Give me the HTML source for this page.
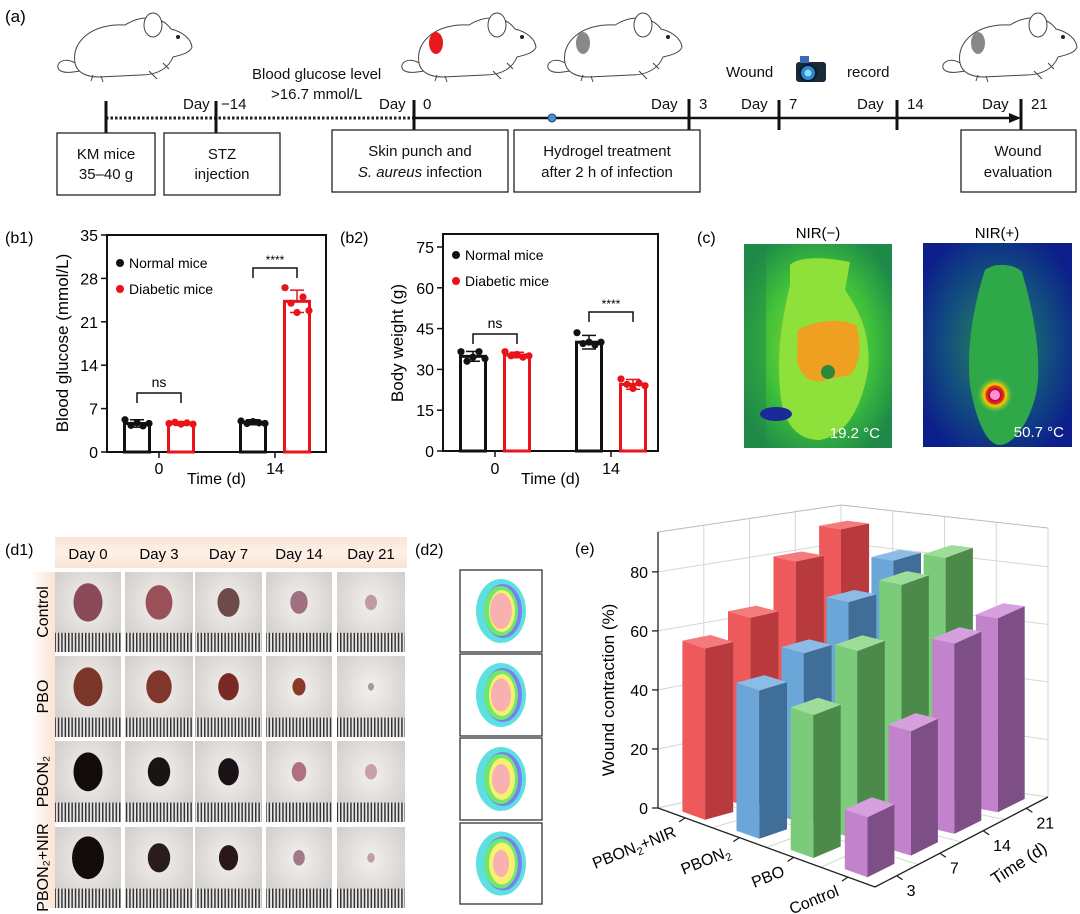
<!DOCTYPE html>
<html><head><meta charset="utf-8"><style>
html,body{margin:0;padding:0;background:#fff;}
svg{display:block;font-family:"Liberation Sans",Arial,sans-serif;}
</style></head><body>
<svg id="root" width="1080" height="914" viewBox="0 0 1080 914" xmlns="http://www.w3.org/2000/svg">
<defs>
  <symbol id="mouse" viewBox="0 0 140 78">
    <path d="M22,58 C8,50 0,62 8,66 C16,70 28,64 36,66" fill="none" stroke="#444" stroke-width="1"/>
    <path d="M22,58 C18,36 40,18 72,20 C88,10 108,10 118,24 C130,27 138,34 139,42 C137,48 128,50 120,52 C116,62 106,70 88,70 L46,72 C34,72 24,68 22,58 Z" fill="#fff" stroke="#444" stroke-width="1"/>
    <ellipse cx="100" cy="20" rx="9" ry="12" fill="#fff" stroke="#444" stroke-width="1"/>
    <circle cx="125" cy="32" r="2" fill="#222"/>
    <path d="M40,70 L38,76 M48,71 L50,77 M96,66 L104,74 M110,58 L116,64" stroke="#444" stroke-width="1"/>
  </symbol>
  <pattern id="ruler" width="3.4" height="20" patternUnits="userSpaceOnUse">
    <rect width="3.4" height="20" fill="#e8e8e8"/><rect width="1.5" height="20" fill="#333"/>
  </pattern>
  <linearGradient id="hdr" x1="0" x2="0" y1="0" y2="1"><stop offset="0" stop-color="#fbe3d3"/><stop offset="0.5" stop-color="#fdf1e8"/><stop offset="1" stop-color="#fbe3d3"/></linearGradient>
  <linearGradient id="rowg" x1="0" x2="1"><stop offset="0" stop-color="#fff"/><stop offset="1" stop-color="#fbe3d3"/></linearGradient>
  <radialGradient id="th1" cx="0.5" cy="0.5" r="0.6"><stop offset="0" stop-color="#a9d92a"/><stop offset="0.6" stop-color="#3fc13a"/><stop offset="1" stop-color="#1e8a4a"/></radialGradient>
  <radialGradient id="th2" cx="0.5" cy="0.5" r="0.6"><stop offset="0" stop-color="#2a8a55"/><stop offset="0.6" stop-color="#124c80"/><stop offset="1" stop-color="#0c1f8a"/></radialGradient>
  <radialGradient id="hot" cx="0.5" cy="0.5" r="0.5"><stop offset="0.3" stop-color="#ff80c8"/><stop offset="0.45" stop-color="#d01020"/><stop offset="0.6" stop-color="#ffcc00"/><stop offset="1" stop-color="#40c040" stop-opacity="0"/></radialGradient>
  <radialGradient id="fur" cx="0.5" cy="0.4" r="0.7"><stop offset="0" stop-color="#f2f0ee"/><stop offset="1" stop-color="#cfcac6"/></radialGradient>
</defs>

<g>
  <text x="5" y="22" font-size="17">(a)</text>
  <use href="#mouse" x="53" y="5" width="140" height="78"/>
  <use href="#mouse" x="397" y="5" width="140" height="78"/>
  <ellipse cx="436" cy="43" rx="7" ry="11" fill="#e8181c"/>
  <use href="#mouse" x="543" y="5" width="140" height="78"/>
  <ellipse cx="583" cy="43" rx="7" ry="11" fill="#888"/>
  <use href="#mouse" x="938" y="5" width="140" height="78"/>
  <ellipse cx="978" cy="43" rx="7" ry="11" fill="#888"/>
  <line x1="106" y1="118" x2="414" y2="118" stroke="#222" stroke-width="3" stroke-dasharray="2.5,2"/>
  <line x1="414" y1="118" x2="1012" y2="118" stroke="#111" stroke-width="2.5"/>
  <polygon points="1021,118 1009,113 1009,123" fill="#111"/>
  <g stroke="#111" stroke-width="3">
    <line x1="106" y1="101" x2="106" y2="133"/><line x1="216" y1="101" x2="216" y2="133"/>
    <line x1="414" y1="100" x2="414" y2="130"/><line x1="689" y1="99" x2="689" y2="130"/>
    <line x1="779" y1="100" x2="779" y2="130"/><line x1="897" y1="100" x2="897" y2="130"/>
    <line x1="1021" y1="99" x2="1021" y2="130"/>
  </g>
  <circle cx="552" cy="118" r="4" fill="#4a90d9" stroke="#1d3f70" stroke-width="1"/>
  <g font-size="15" fill="#111">
    <text x="183" y="109">Day</text><text x="221" y="109">−14</text>
    <text x="252" y="79">Blood glucose level</text>
    <text x="271" y="99">&gt;16.7 mmol/L</text>
    <text x="379" y="109">Day</text><text x="423" y="109">0</text>
    <text x="651" y="109">Day</text><text x="699" y="109">3</text>
    <text x="741" y="109">Day</text><text x="789" y="109">7</text>
    <text x="857" y="109">Day</text><text x="907" y="109">14</text>
    <text x="982" y="109">Day</text><text x="1031" y="109">21</text>
    <text x="726" y="77">Wound</text>
    <text x="847" y="77">record</text>
  </g>
  <g>
    <rect x="796" y="62" width="30" height="20" rx="3" fill="#1a2a3a"/>
    <rect x="800" y="56" width="9" height="7" fill="#3a6ab0"/>
    <circle cx="808" cy="73" r="8" fill="#2a8ad0" stroke="#0a1a2a" stroke-width="2"/>
    <circle cx="808" cy="73" r="3.5" fill="#8fd6ff"/>
  </g>
  <g fill="#fff" stroke="#222" stroke-width="1.3" font-size="15">
    <rect x="57" y="133" width="98" height="62"/>
    <rect x="164" y="133" width="116" height="62"/>
    <rect x="332" y="130" width="176" height="62"/>
    <rect x="514" y="130" width="186" height="62"/>
    <rect x="961" y="130" width="115" height="62"/>
  </g>
  <g font-size="15" fill="#111" text-anchor="middle">
    <text x="106" y="159">KM mice</text><text x="106" y="179">35–40 g</text>
    <text x="222" y="159">STZ</text><text x="222" y="179">injection</text>
    <text x="420" y="156">Skin punch and</text><text x="420" y="177"><tspan font-style="italic">S. aureus</tspan> infection</text>
    <text x="607" y="156">Hydrogel treatment</text><text x="607" y="177">after 2 h of infection</text>
    <text x="1018" y="156">Wound</text><text x="1018" y="177">evaluation</text>
  </g>
</g>

<g id="b1"></g>
<g id="b2"></g>

<g>
  <text x="697" y="243" font-size="16">(c)</text>
  <text x="818" y="238" font-size="15" text-anchor="middle">NIR(−)</text>
  <text x="997" y="238" font-size="15" text-anchor="middle">NIR(+)</text>
  <g>
    <rect x="744" y="244" width="148" height="204" fill="url(#th1)"/>
    <rect x="744" y="244" width="22" height="204" fill="#1f8a45" opacity="0.5"/>
    <path d="M790,265 C800,255 830,258 850,262 L845,290 C855,305 872,330 868,370 C862,405 848,435 820,440 C795,440 782,420 780,390 C776,350 784,310 790,285 Z" fill="#8ee03a"/>
    <path d="M798,330 C815,320 840,318 856,325 C862,345 860,365 850,375 L825,380 C810,385 800,375 797,360 Z" fill="#f0a020"/>
    <circle cx="828" cy="372" r="7" fill="#2a8a3a"/>
    <ellipse cx="776" cy="414" rx="16" ry="7" fill="#1a2a9a"/>
    <text x="880" y="438" font-size="15" fill="#fff" text-anchor="end">19.2 °C</text>
  </g>
  <g>
    <rect x="923" y="243" width="149" height="204" fill="url(#th2)"/>
    <path d="M985,270 C995,262 1015,264 1022,272 C1030,300 1040,340 1038,380 C1035,415 1015,445 1000,445 C985,445 975,415 970,385 C966,345 975,300 985,270 Z" fill="#2fa84a"/>
    <circle cx="995" cy="395" r="18" fill="url(#hot)"/>
    <circle cx="995" cy="395" r="6" fill="#ff90d8" stroke="#c01020" stroke-width="2"/>
    <text x="1064" y="437" font-size="15" fill="#fff" text-anchor="end">50.7 °C</text>
  </g>
</g>

<g id="d1">
  <text x="5" y="555" font-size="16">(d1)</text>
  <rect x="55" y="537" width="352" height="31" fill="url(#hdr)"/>
  <rect x="30" y="572" width="25" height="336" fill="url(#rowg)"/>
</g>
<g id="d2">
  <text x="415" y="555" font-size="16">(d2)</text>
</g>
<g id="e">
  <text x="575" y="554" font-size="16">(e)</text>
</g>
</svg>

<script>
var NS='http://www.w3.org/2000/svg';
function mk(tag,attrs,parent){var el=document.createElementNS(NS,tag);for(var k in attrs)el.setAttribute(k,attrs[k]);parent.appendChild(el);return el;}
function tx(str,attrs,parent){var el=mk('text',attrs,parent);el.textContent=str;return el;}

var bGroups=['0','14'];
var b1Normal=[4.6,4.8];
var b1Diabetic=[4.6,24.3];
var b1NormalErr=[0.6,0.4];
var b1DiabeticErr=[0.3,1.8];
var b1NormalPts=[[5.2,4.3,4.7,4.2,4.6],[5.0,4.6,4.9,4.7,4.6]];
var b1DiabeticPts=[[4.6,4.8,4.5,4.7,4.5],[26.5,24.0,22.5,25.0,22.8]];
var b1Ticks=[0,7,14,21,28,35];
var b2Normal=[34.8,40.0];
var b2Diabetic=[35.3,24.5];
var b2NormalErr=[1.8,2.5];
var b2DiabeticErr=[1.0,1.8];
var b2NormalPts=[[36.5,33.0,34.5,36.5,34.0],[43.5,39.5,40.0,39.0,40.0]];
var b2DiabeticPts=[[36.5,35.0,35.5,34.5,35.0],[26.5,24.5,23.0,25.0,24.0]];
var b2Ticks=[0,15,30,45,60,75];

function barPanel(id,cfg){
  var g=document.getElementById(id);
  var x0=cfg.x0,x1=cfg.x1,yTop=cfg.yTop,yBot=cfg.yBot;
  function Y(v){return yBot-(v/cfg.max)*(yBot-cfg.yMaxPix);}
  function GX(i){return x0+52+i*116;}
  tx(cfg.label,{x:5+cfg.labelX,y:243,'font-size':16},g);
  var fr=mk('rect',{x:x0,y:yTop,width:x1-x0,height:yBot-yTop,fill:'none',stroke:'#111','stroke-width':2},g);
  
  
  cfg.ticks.forEach(function(t){
    mk('line',{x1:x0-6,x2:x0,y1:Y(t),y2:Y(t),stroke:'#111','stroke-width':1.5},g);
    var tl=tx(String(t),{x:x0-9,y:Y(t)+6,'font-size':16,'text-anchor':'end'},g);
    
    
  });
  var yt=tx(cfg.ytitle,{x:0,y:0,'font-size':17,'text-anchor':'middle',transform:'translate('+cfg.ytx+',343) rotate(-90)'},g);
  
  
  var xt=tx('Time (d)',{x:(x0+x1)/2,y:484,'font-size':16,'text-anchor':'middle'},g);
  
  
  bGroups.forEach(function(lbl,i){
    var gx=GX(i);
    mk('line',{x1:gx,x2:gx,y1:yBot,y2:yBot+6,stroke:'#111','stroke-width':1.5},g);
    var xl=tx(lbl,{x:gx,y:474,'font-size':16,'text-anchor':'middle'},g);
    
    
    [[cfg.normal,cfg.nErr,cfg.nPts,'#111',-22],[cfg.diab,cfg.dErr,cfg.dPts,'#e8141a',22]].forEach(function(s,j){
      var cx=gx+s[4],v=s[0][i],e=s[1][i];
      var b=mk('rect',{x:cx-12.5,y:Y(v),width:25,height:yBot-Y(v),fill:'#fff',stroke:s[3],'stroke-width':3},g);
      
      
      mk('line',{x1:cx,x2:cx,y1:Y(v+e),y2:Y(v),stroke:s[3],'stroke-width':1.5},g);
      mk('line',{x1:cx-7,x2:cx+7,y1:Y(v+e),y2:Y(v+e),stroke:s[3],'stroke-width':1.5},g);
      mk('line',{x1:cx-7,x2:cx+7,y1:Y(v-e),y2:Y(v-e),stroke:s[3],'stroke-width':1.5},g);
      s[2][i].forEach(function(p,k){
        var d=mk('circle',{cx:cx-12+k*6,cy:Y(p),r:3.6,fill:s[3]},g);
        
        
      });
    });
  });
  var l1=mk('circle',{cx:x0+13,cy:cfg.legY,r:4,fill:'#111'},g);
  
  
  var lt1=tx('Normal mice',{x:x0+22,y:cfg.legY+5,'font-size':14},g);
  
  
  var l2=mk('circle',{cx:x0+13,cy:cfg.legY+26,r:4,fill:'#e8141a'},g);
  
  
  var lt2=tx('Diabetic mice',{x:x0+22,y:cfg.legY+31,'font-size':14},g);
  
  
  cfg.sig.forEach(function(s,i){
    var gx=GX(i);
    var br=mk('path',{d:'M'+(gx-22)+','+(s.y+10)+' V'+s.y+' H'+(gx+22)+' V'+(s.y+10),fill:'none',stroke:'#111','stroke-width':1.5},g);
    
    
    var st=tx(s.t,{x:gx,y:s.y-(s.t=='ns'?6:4),'font-size':s.t=='ns'?14:12,'text-anchor':'middle'},g);
    
    
  });
}
barPanel('b1',{x0:107,x1:326,yTop:235,yBot:452,yMaxPix:235,max:35,label:'(b1)',labelX:0,ticks:b1Ticks,ytitle:'Blood glucose (mmol/L)',ytx:68,
  normal:b1Normal,diab:b1Diabetic,nErr:b1NormalErr,dErr:b1DiabeticErr,nPts:b1NormalPts,dPts:b1DiabeticPts,legY:263,
  sig:[{y:393,t:'ns'},{y:268,t:'****'}]});
barPanel('b2',{x0:443,x1:658,yTop:234,yBot:451,yMaxPix:247,max:75,label:'(b2)',labelX:335,ticks:b2Ticks,ytitle:'Body weight (g)',ytx:403,
  normal:b2Normal,diab:b2Diabetic,nErr:b2NormalErr,dErr:b2DiabeticErr,nPts:b2NormalPts,dPts:b2DiabeticPts,legY:255,
  sig:[{y:334,t:'ns'},{y:312,t:'****'}]});

(function(){
  var g=document.getElementById('d1');
  var days=['Day 0','Day 3','Day 7','Day 14','Day 21'];
  var rows=['Control','PBO','PBON₂','PBON₂+NIR'];
  var cx=[[55,121],[125,193],[195,262],[266,332],[337,405]];
  var ry=[[572,652],[656,737],[741,822],[827,908]];
  var woundSize=[[1,0.9,0.75,0.6,0.4],[1,0.85,0.7,0.45,0.2],[1,0.75,0.7,0.5,0.4],[1.1,0.75,0.65,0.4,0.25]];
  var woundCol=[['#8a4a58','#9a5058','#6e4a48','#a07080','#c09aa6'],['#7a3628','#80362a','#7a2a22','#8a3a2a','#a89898'],['#140c0c','#1a1414','#1a1216','#b07080','#c8a0a8'],['#140c0c','#2a1c1c','#2a1818','#a07888','#c0a0a0']];
  days.forEach(function(d,i){
    var t=tx(d,{x:(cx[i][0]+cx[i][1])/2,y:559,'font-size':15,'text-anchor':'middle'},g);
    
    
  });
  rows.forEach(function(r,j){
    var t=tx(r,{x:0,y:0,'font-size':16,'text-anchor':'middle',transform:'translate(48,'+((ry[j][0]+ry[j][1])/2)+') rotate(-90)'},g);
    
    
    cx.forEach(function(c,i){
      var w=c[1]-c[0],h=ry[j][1]-ry[j][0];
      var ph=mk('g',{},g);
      
      
      mk('rect',{x:c[0],y:ry[j][0],width:w,height:h,fill:'url(#fur)'},ph);
      mk('rect',{x:c[0],y:ry[j][1]-h*0.24,width:w,height:h*0.24,fill:'url(#ruler)'},ph);
      var s=woundSize[j][i];
      mk('ellipse',{cx:c[0]+w/2,cy:ry[j][0]+h*0.38,rx:w*0.22*s,ry:h*0.24*s,fill:woundCol[j][i]},ph);
    });
  });
})();

(function(){
  var g=document.getElementById('d2');
  var by=[[570,652],[654,736],[738,820],[823,904]];
  by.forEach(function(b,i){
    var h=b[1]-b[0],cy=b[0]+h/2,cx=501;
    var bx=mk('g',{},g);
    
    
    mk('rect',{x:460,y:b[0],width:82,height:h,fill:'#fff',stroke:'#333','stroke-width':1.3},bx);
    mk('ellipse',{cx:cx,cy:cy,rx:25,ry:32,fill:'#5ee0e0'},bx);
    mk('ellipse',{cx:cx+2,cy:cy,rx:19,ry:27,fill:'#7a80f0'},bx);
    mk('ellipse',{cx:cx,cy:cy,rx:17,ry:25,fill:'#70e870'},bx);
    mk('ellipse',{cx:cx+1,cy:cy,rx:13,ry:21,fill:'#f8f070'},bx);
    mk('ellipse',{cx:cx,cy:cy,rx:11-i,ry:18-i*1.5,fill:'#f8b0b0'},bx);
  });
})();

var eSeries=['PBON₂+NIR','PBON₂','PBO','Control'];
var eDays=['3','7','14','21'];
var eNIR=[58,65,81,89];
var ePBON2=[50,58,71,81];
var ePBO=[48,64,81,85];
var eControl=[20,42,65,67];
var eZTicks=[0,20,40,60,80];
(function(){
  var g=document.getElementById('e');
  var vals=[eNIR,ePBON2,ePBO,eControl];
  var cols=[['#ee5a5c','#b83a3c','#f47a7b'],['#6aa6d8','#3f6e98','#8cbce6'],['#7ccb7a','#4c8a4c','#9edc9a'],['#c283cc','#7d4f86','#d6a0de']];
  /* floor corners: L(s0,t0) F(s4,t0) R(s4,t4) B(s0,t4) and wall heights at ZMAX */
  var CL=[658,808,276],CF=[875,887,280],CR=[1048,797,269],CB=[841,767,262],ZMAX=93.5;
  function P(s,t,z){
    var u=s/4,v=t/4;
    var wL=(1-u)*(1-v),wF=u*(1-v),wR=u*v,wB=(1-u)*v;
    var x=CL[0]*wL+CF[0]*wF+CR[0]*wR+CB[0]*wB;
    var y=CL[1]*wL+CF[1]*wF+CR[1]*wR+CB[1]*wB;
    var h=CL[2]*wL+CF[2]*wF+CR[2]*wR+CB[2]*wB;
    return [x,y-h/ZMAX*z];
  }
  function pts(a){return a.map(function(p){return p[0].toFixed(1)+','+p[1].toFixed(1);}).join(' ');}
  var grid=mk('g',{stroke:'#d6d6d6','stroke-width':1,fill:'none'},g);
  
  
  for(var k=0;k<=4;k++){
    var a=P(0,k,0),b=P(0,k,ZMAX);mk('line',{x1:a[0],y1:a[1],x2:b[0],y2:b[1]},grid);
    a=P(k,4,0);b=P(k,4,ZMAX);mk('line',{x1:a[0],y1:a[1],x2:b[0],y2:b[1]},grid);
    a=P(k,0,0);b=P(k,4,0);mk('line',{x1:a[0],y1:a[1],x2:b[0],y2:b[1]},grid);
    a=P(0,k,0);b=P(4,k,0);mk('line',{x1:a[0],y1:a[1],x2:b[0],y2:b[1]},grid);
  }
  eZTicks.forEach(function(z){
    var a=P(0,0,z),b=P(0,4,z),c=P(4,4,z);
    mk('polyline',{points:pts([a,b,c])},grid);
  });
  var top1=P(0,0,ZMAX),top2=P(0,4,ZMAX),top3=P(4,4,ZMAX);
  mk('polyline',{points:pts([top1,top2,top3]),stroke:'#bbb'},grid);
  var ax=mk('g',{stroke:'#222','stroke-width':1.3},g);
  
  
  var a0=P(0,0,0),a1=P(0,0,ZMAX),a2=P(4,0,0),a3=P(4,4,0);
  mk('line',{x1:a0[0],y1:a0[1],x2:a1[0],y2:a1[1]},ax);
  mk('line',{x1:a0[0],y1:a0[1],x2:a2[0],y2:a2[1]},ax);
  mk('line',{x1:a2[0],y1:a2[1],x2:a3[0],y2:a3[1]},ax);
  eZTicks.forEach(function(z){
    var p=P(0,0,z);
    mk('line',{x1:p[0]-6,y1:p[1],x2:p[0],y2:p[1]},ax);
    var t=tx(String(z),{x:p[0]-10,y:p[1]+6,'font-size':16,'text-anchor':'end'},g);
    
    
  });
  var zt=tx('Wound contraction (%)',{x:0,y:0,'font-size':17,'text-anchor':'middle',transform:'translate(614,690) rotate(-90)'},g);
  
  
  eSeries.forEach(function(s,i){
    var p=P(i+0.5,0,0);
    mk('line',{x1:p[0],y1:p[1],x2:p[0]-6,y2:p[1]+4},ax);
    var t=mk('text',{x:0,y:0,'font-size':16,'text-anchor':'end',transform:'translate('+(p[0]-8)+','+(p[1]+18)+') rotate(-22)'},g);
    var parts=s.split('₂');
    t.appendChild(document.createTextNode(parts[0]));
    if(parts.length>1){
      var sub=mk('tspan',{'font-size':11,dy:4},t);sub.textContent='2';
      var rest=mk('tspan',{dy:-4},t);rest.textContent=parts[1]||'';
    }
    
    
  });
  eDays.forEach(function(d,i){
    var p=P(4,i+0.5,0);
    mk('line',{x1:p[0],y1:p[1],x2:p[0]+6,y2:p[1]+4},ax);
    var t=tx(d,{x:p[0]+10,y:p[1]+20,'font-size':16,'text-anchor':'start'},g);
    
    
  });
  var tt=tx('Time (d)',{x:0,y:0,'font-size':17,'text-anchor':'middle',transform:'translate(1022,868) rotate(-33)'},g);
  
  
  var order=[];
  for(var t=3;t>=0;t--)for(var s=0;s<4;s++)order.push([s,t]);
  var WS=0.42,WT=0.62;
  order.forEach(function(o){
    var s=o[0],t=o[1],v=vals[s][t],c=cols[s];
    var s0=s+0.5-WS/2,s1=s+0.5+WS/2,t0=t+0.5-WT/2,t1=t+0.5+WT/2;
    var bar=mk('g',{},g);
    
    
    mk('polygon',{points:pts([P(s0,t0,0),P(s1,t0,0),P(s1,t0,v),P(s0,t0,v)]),fill:c[0]},bar);
    mk('polygon',{points:pts([P(s1,t0,0),P(s1,t1,0),P(s1,t1,v),P(s1,t0,v)]),fill:c[1]},bar);
    mk('polygon',{points:pts([P(s0,t0,v),P(s1,t0,v),P(s1,t1,v),P(s0,t1,v)]),fill:c[2]},bar);
  });
})();
</script>
</body></html>
